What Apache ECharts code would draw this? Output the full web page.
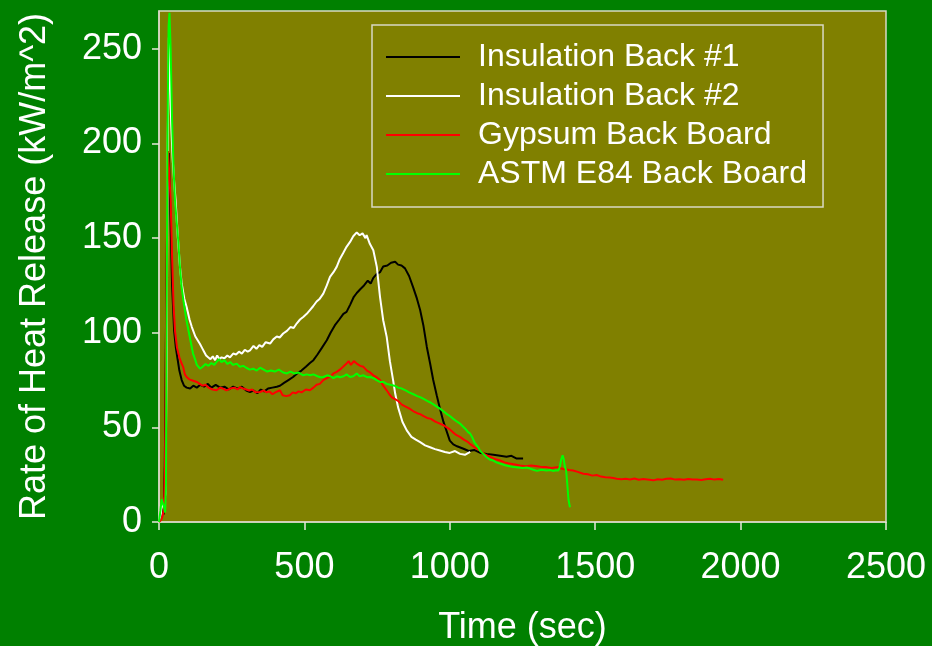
<!DOCTYPE html>
<html>
<head>
<meta charset="utf-8">
<script src="https://cdn.jsdelivr.net/npm/echarts@6/dist/echarts.min.js"></script>
<style>
html,body{margin:0;padding:0;background:#008000;}
#chart{width:932px;height:646px;}
</style>
</head>
<body>
<div id="chart"></div>
<script>
const seriesNames = ['Insulation Back #1', 'Insulation Back #2', 'Gypsum Back Board', 'ASTM E84 Back Board'];
const xTicks = [0, 500, 1000, 1500, 2000, 2500];
const yTicks = [0, 50, 100, 150, 200, 250];

const insulation1 = [[0,0],[6,3],[11,7],[16,4],[20,30],[25,120],[30,180],[34,195],[38,170],[45,125],[52,101],[58,92],[64,86],[70,80],[78,75],[86,72],[95,71],[107,70.5],[118,72],[130,71],[142,72.5],[155,71.5],[168,73],[180,71],[195,72.5],[210,71],[225,71.5],[240,70],[255,71.5],[270,70.5],[285,71.5],[300,69.5],[313,68.7],[325,69.5],[338,68],[350,70],[362,69],[375,70.5],[390,71],[405,71.5],[416,72],[430,73.5],[445,75],[461,76.6],[475,78.5],[490,80],[505,82],[519,84],[531,85.5],[545,88.5],[560,92],[577,96],[590,100],[605,104],[620,107],[634,110],[645,111],[658,115],[670,119],[680,121],[692,123],[705,125],[718,127.5],[728,126],[737,129],[748,131],[760,132],[771,135],[785,135.5],[798,137],[812,137.5],[822,136],[834,135.5],[846,134],[860,130],[874,124],[887,118],[898,112],[909,104],[921,92.5],[932,84],[943,75],[955,67],[966,60],[978,53],[989,48],[1000,43],[1012,41],[1025,40],[1047,38.7],[1065,37.5],[1085,38],[1105,36.5],[1127,36],[1150,35.5],[1173,35],[1195,34.5],[1212,35],[1230,33.5],[1252,33.5]];

const insulation2 = [[0,0],[6,4],[11,10],[16,8],[22,15],[26,80],[30,200],[34,256],[38,235],[42,210],[47,192],[52,180],[57,170],[61,160],[65,150],[72,135],[78,126],[87,118],[95,113.6],[105,107],[113,103],[125,98],[133,96],[141,94],[148,92],[155,90],[162,88],[169,87],[177,86],[185,87.5],[193,85.5],[200,88],[208,86],[215,87],[225,86.5],[235,88],[244,87],[255,89],[265,88.5],[275,90],[285,89],[295,91],[305,90],[313,90.7],[325,93],[335,91.5],[345,93.5],[355,92.5],[367,95],[382,94.3],[393,96.5],[405,98],[415,97.5],[427,99.6],[440,101],[452,103],[463,102.5],[474,105],[485,107],[497,108.5],[508,110],[519,112],[530,114],[542,116.5],[553,118],[565,120.7],[577,125],[588,129.5],[600,132],[611,134.8],[622,139],[633,142],[645,145.4],[657,148],[668,151],[680,153],[690,151.5],[700,152.5],[710,150],[714,151.6],[725,147],[737,143.6],[749,134.8],[760,119],[771,106.6],[783,97.8],[794,85],[805,75],[812,68],[822,60.7],[837,53],[852,48.4],[868,45],[883,43.5],[898,42.2],[915,40.5],[932,39.5],[949,38.5],[966,37.8],[983,37],[1000,36.5],[1018,37.5],[1035,36],[1052,35.5],[1070,37]];

const gypsum = [[0,0],[7,1],[12,3],[17,7],[21,30],[25,110],[28,170],[31,196],[35,185],[40,170],[45,140],[50,115],[55,101],[62,92],[70,87],[77,84],[83,82],[89,78],[95,76.6],[103,75.5],[110,75],[120,74.5],[130,74],[140,73],[150,72],[160,72.5],[170,71],[184,70],[198,69.6],[210,71],[220,70.5],[232,69.5],[245,70.5],[260,71],[270,70],[279,71.3],[290,70.5],[300,70],[310,69.5],[320,70],[333,68.5],[347,68.7],[360,69.5],[370,68.5],[380,69],[390,67.5],[400,68.5],[416,69.6],[425,67],[438,66.5],[450,67],[460,68.5],[470,68],[480,69],[490,68.5],[505,70],[519,69.6],[531,71],[542,72.5],[553,73],[565,75],[577,76],[590,77],[600,78.5],[611,79.3],[622,80.5],[633,82],[645,83.7],[652,85],[660,83],[670,85],[680,83.7],[692,82.5],[703,82],[715,80],[726,79],[737,77.5],[748,76.5],[760,75],[771,72],[783,69.6],[792,67.5],[800,66],[810,65],[822,64],[835,62],[848,61],[860,60],[875,58.5],[888,57.5],[898,57],[910,56],[922,55],[935,54.5],[950,53],[966,52],[980,51],[995,49.5],[1010,47.5],[1022,46],[1035,45],[1048,43.5],[1060,42.5],[1072,41],[1085,39.5],[1095,38.5],[1104,37.8],[1118,36],[1130,35],[1145,34],[1160,33],[1173,32.5],[1188,31.5],[1200,31],[1220,30.5],[1241,29.9],[1260,29.5],[1280,29.8],[1300,29.5],[1318,29],[1333,29],[1350,28.5],[1370,29],[1390,28],[1410,27.5],[1424,27.2],[1440,26.5],[1459,25.5],[1475,25.2],[1490,24.5],[1505,24.8],[1520,24],[1535,23.6],[1550,23.5],[1562,23.2],[1574,22.9],[1590,22.6],[1605,22.8],[1620,22.5],[1635,23],[1650,22.3],[1665,22.7],[1680,22.4],[1700,22],[1715,22.6],[1730,22.3],[1745,22.8],[1760,23],[1775,22.4],[1790,22.6],[1805,22.3],[1820,22.7],[1835,22.4],[1850,22.5],[1865,22.2],[1880,22.6],[1895,22.9],[1910,22.4],[1925,22.7],[1940,22.3]];

const astmE84 = [[0,0],[5,6],[9,12],[13,10],[17,8],[21,5],[24,20],[26,100],[29,200],[33,262],[36,269],[40,250],[45,212],[50,187],[55,170],[60,160],[66,149],[72,135],[78,124],[84,117],[89,112],[94,107],[99,103],[108,96],[117,89],[124,86],[130,83],[141,81],[150,82],[160,83.5],[170,82.5],[180,84],[190,83],[198,84.6],[207,86],[215,84.5],[225,85.5],[235,83.5],[245,84.5],[255,83],[267,83.7],[278,82],[290,82.5],[300,81.5],[312,80.5],[324,81],[336,80],[348,81.5],[360,80.5],[372,79.5],[385,80],[398,79.5],[412,80.5],[427,79],[440,78.5],[452,79.5],[465,78.5],[480,79],[496,77.5],[508,78],[520,77.5],[531,78],[545,77],[555,76.5],[565,76.6],[578,77.5],[590,77],[600,76],[612,77],[622,76.5],[635,77],[645,78],[657,76.6],[668,77],[680,78.5],[690,77],[703,77.5],[715,76.5],[726,76.6],[737,76],[748,75],[760,74],[771,74],[783,73],[795,72.5],[810,72],[822,71],[835,70.5],[848,69.5],[860,68.5],[875,67.5],[888,66.5],[898,66],[910,65],[922,64],[935,63],[945,62],[955,61],[966,59.9],[978,58.5],[990,57],[1000,56],[1012,54.5],[1025,53],[1035,52],[1045,50.5],[1055,49],[1063,47.5],[1070,46.7],[1078,44.5],[1085,42],[1095,40],[1104,37.8],[1115,36],[1125,34.5],[1137,33],[1149,32.5],[1160,31.5],[1170,31],[1180,30.5],[1190,30],[1205,29.5],[1219,29],[1235,28.8],[1250,28.5],[1265,28.8],[1280,28],[1290,27.5],[1300,27],[1315,27.6],[1333,27.2],[1345,27.5],[1355,27],[1365,27.3],[1373,27.2],[1378,29],[1383,33],[1388,35.2],[1392,33],[1396,29],[1400,27.2],[1404,20],[1408,12],[1413,7.8]];

const seriesData = [insulation1, insulation2, gypsum, astmE84];
const seriesColors = ['#000000', '#ffffff', '#ff0000', '#00ff00'];

const FONT = "'Liberation Sans', Arial, sans-serif";
const frameColor = '#d8d8c4';

const chart = echarts.init(document.getElementById('chart'), null, {renderer: 'canvas'});
chart.setOption({
  backgroundColor: '#008000',
  animation: false,
  textStyle: {fontFamily: FONT},
  grid: {left: 159, right: 46, top: 11, bottom: 124, containLabel: false, outerBoundsMode: 'none', show: true, backgroundColor: '#808000', borderColor: frameColor, borderWidth: 1.5},
  legend: {
    data: seriesNames,
    orient: 'vertical',
    left: 372, top: 25,
    padding: [16, 16, 17, 14],
    icon: 'rect',
    itemWidth: 74, itemHeight: 2, itemGap: 7,
    borderColor: frameColor, borderWidth: 1.5,
    textStyle: {color: '#ffffff', fontSize: 32, lineHeight: 32, fontFamily: FONT, padding: [0, 0, 0, 13]}
  },
  xAxis: {
    type: 'value', min: 0, max: 2500, interval: 500,
    name: 'Time (sec)', nameLocation: 'middle', nameGap: 88,
    nameTextStyle: {color: '#ffffff', fontSize: 36, fontFamily: FONT},
    axisLine: {show: true, lineStyle: {color: frameColor, width: 1.5}},
    axisTick: {show: true, length: 8, lineStyle: {color: '#e8e8dc', width: 1.5}, customValues: xTicks},
    axisLabel: {color: '#ffffff', fontSize: 36, margin: 28, fontFamily: FONT, customValues: xTicks, formatter: v => String(v)},
    splitLine: {show: false}
  },
  yAxis: {
    type: 'value', min: 0, max: 270,
    name: 'Rate of Heat Release (kW/m^2)', nameLocation: 'middle', nameGap: 106,
    nameTextStyle: {color: '#ffffff', fontSize: 36, fontFamily: FONT},
    axisLine: {show: true, lineStyle: {color: frameColor, width: 1.5}},
    axisTick: {show: true, length: 7, lineStyle: {color: '#e8e8dc', width: 1.5}, customValues: yTicks},
    axisLabel: {color: '#ffffff', fontSize: 36, margin: 17, fontFamily: FONT, customValues: yTicks, formatter: v => String(v)},
    splitLine: {show: false}
  },
  series: seriesNames.map((n, i) => ({
    name: n, type: 'line', data: seriesData[i], showSymbol: false, symbol: 'none',
    lineStyle: {color: seriesColors[i], width: 2}, itemStyle: {color: seriesColors[i]}
  }))
});
</script>
</body>
</html>
